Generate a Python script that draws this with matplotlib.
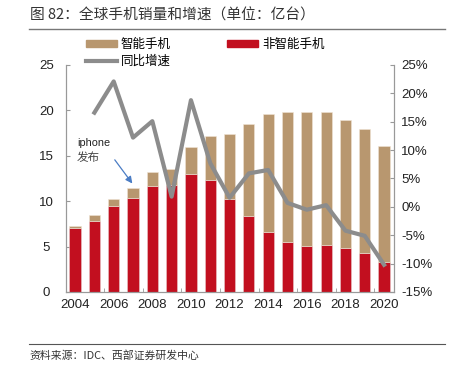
import matplotlib
matplotlib.use('Agg')
import matplotlib.pyplot as plt
import matplotlib.lines as mlines
import matplotlib.patches as mpatches

plt.rcParams['font.family'] = ['Liberation Sans', 'Noto Sans CJK SC', 'DejaVu Sans']

# data (亿台, %)
years = list(range(2004, 2021))
non_smart = [7.0, 7.8, 9.5, 10.3, 11.7, 11.8, 13.0, 12.3, 10.2, 8.35, 6.65, 5.5, 5.1, 5.2, 4.9, 4.25, 3.3]
smart = [0.25, 0.65, 0.75, 1.2, 1.5, 1.7, 3.0, 4.9, 7.25, 10.15, 13.0, 14.3, 14.7, 14.6, 14.0, 13.75, 12.8]
growth_years = list(range(2005, 2021))
growth = [16.6, 22.1, 12.2, 15.1, 1.8, 18.8, 7.7, 1.6, 5.9, 6.5, 0.7, -0.5, 0.3, -4.2, -5.1, -10.2]

c_smart = '#B8976F'
c_red = '#C20F1F'
c_line = '#8C8C8C'
c_axis = '#999999'
cjk = ['Noto Sans CJK SC', 'DejaVu Sans']

fig = plt.figure(figsize=(4.53, 3.65), dpi=100)
ax = fig.add_axes([0.1457, 0.2, 0.7243, 0.622])
ax2 = ax.twinx()

ax.bar(years, non_smart, width=0.58, color=c_red, edgecolor='#E8C8C8', linewidth=0.4, zorder=2)
ax.bar(years, smart, bottom=non_smart, width=0.58, color=c_smart, edgecolor='#EFE4D6',
       linewidth=0.4, zorder=2)
ax2.plot(growth_years, growth, color=c_line, linewidth=3, zorder=3)

ax.set_xlim(2003.53, 2020.52)
ax.set_ylim(0, 25)
ax.set_yticks([0, 5, 10, 15, 20, 25])
ax2.set_ylim(-15, 25)
ax2.set_yticks(range(-15, 26, 5))
ax2.set_yticklabels([f'{v}%' for v in range(-15, 26, 5)])
ax.set_xticks(range(2004, 2021, 2))
ax.set_xticks([y + 0.5 for y in range(2005, 2020, 2)], minor=True)

for a in (ax, ax2):
    a.spines['top'].set_visible(False)
    for s in ('left', 'right', 'bottom'):
        a.spines[s].set_color(c_axis)
        a.spines[s].set_linewidth(0.8)
    a.tick_params(labelsize=9.5, colors='#222222')
ax.tick_params(axis='y', direction='in', length=3, color=c_axis, pad=14)
ax.tick_params(axis='x', which='major', length=0, pad=5)
ax.tick_params(axis='x', which='minor', length=3, direction='in', color=c_axis)
ax2.tick_params(axis='y', direction='in', length=3, color=c_axis, pad=5)
for lab in ax.get_yticklabels():
    lab.set_horizontalalignment('center')
ax.set_zorder(ax2.get_zorder() - 1)
ax.patch.set_visible(False)
ax2.patch.set_visible(False)

# annotation
ax.annotate('', xy=(2007.05, 11.7), xytext=(2005.97, 14.8),
            arrowprops=dict(arrowstyle='-|>', color='#4A7CC4', lw=0.9, mutation_scale=10))
ax.text(2004.1, 16.4, 'iphone', fontsize=7.8, color='#222222', va='center')
ax.text(2004.1, 14.85, '发布', fontsize=8.3, color='#444444', family=cjk, va='center')

# legend
h1 = mpatches.Patch(color=c_smart, label='智能手机')
h2 = mpatches.Patch(color=c_red, label='非智能手机')
h3 = mlines.Line2D([], [], color=c_line, linewidth=3, label='同比增速')
leg_kw = dict(frameon=False, prop={'family': cjk, 'size': 9}, handlelength=2.5,
              handleheight=0.55, handletextpad=0.3, borderaxespad=0)
fig.legend(handles=[h1, h3], loc='upper left', bbox_to_anchor=(0.178, 0.91),
           labelspacing=0.3, **leg_kw)
fig.legend(handles=[h2], loc='upper left', bbox_to_anchor=(0.49, 0.91), **leg_kw)

# title, rules and source
fig.text(0.066, 0.958, '图 82：全球手机销量和增速（单位：亿台）', fontsize=10.6, family=cjk,
         color='#333333', va='center')
fig.add_artist(mlines.Line2D([0.064, 0.982], [0.921, 0.921], color='#777777', lw=1))
fig.add_artist(mlines.Line2D([0.064, 0.982], [0.058, 0.058], color='#555555', lw=0.8))
fig.text(0.066, 0.027, '资料来源：IDC、西部证券研发中心', fontsize=7.8, family=cjk,
         color='#333333', va='center')

fig.savefig('out.png', dpi=100)
